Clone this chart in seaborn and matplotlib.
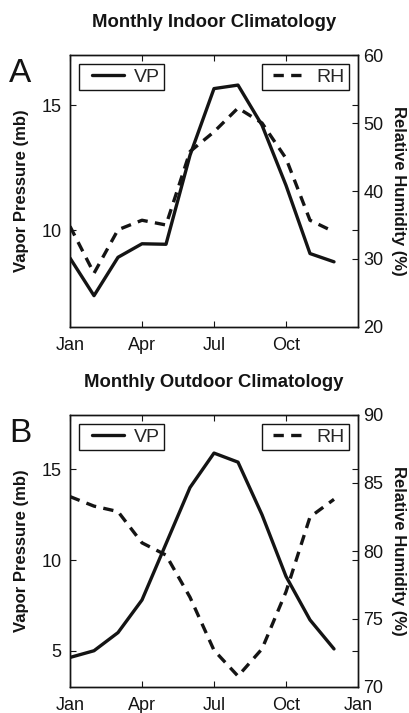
import matplotlib
matplotlib.use("Agg")
import matplotlib.pyplot as plt
import seaborn as sns
import pandas as pd
from matplotlib.lines import Line2D
from matplotlib.legend_handler import HandlerLine2D

# ---- data ----
months = [1, 2, 3, 4, 5, 6, 7, 8, 9, 10, 11, 12]
indoor_vp = [8.9, 7.4, 8.93, 9.47, 9.45, 13.0, 15.66, 15.8, 14.2, 11.8, 9.08, 8.75]
indoor_rh = [34.8, 27.9, 34.3, 35.7, 35.0, 45.8, 48.7, 52.2, 50.0, 44.8, 35.7, 34.0]
outdoor_vp = [4.63, 5.0, 6.0, 7.8, 10.9, 14.0, 15.9, 15.4, 12.5, 9.1, 6.7, 5.1]
outdoor_rh = [84.0, 83.3, 82.9, 80.6, 79.7, 76.6, 72.7, 70.8, 72.8, 77.0, 82.5, 83.8]

xtick_pos_a = [1, 4, 7, 10]
xtick_lab_a = ["Jan", "Apr", "Jul", "Oct"]
xtick_pos_b = [1, 4, 7, 10, 13]
xtick_lab_b = ["Jan", "Apr", "Jul", "Oct", "Jan"]

titles = ["Monthly Indoor Climatology", "Monthly Outdoor Climatology"]
panel_letters = ["A", "B"]

sns.set_theme(style="white")
plt.rcParams["font.family"] = ["Liberation Sans", "DejaVu Sans"]
plt.rcParams["axes.linewidth"] = 1.0

W, H = 409, 713
fig = plt.figure(figsize=(W / 100, H / 100), dpi=100)

INK = "#141414"
LW = 2.4
DASH = (0, (3.1, 2.2))

def make_panel(top_px, vp, rh, vp_lim, vp_ticks, rh_lim, rh_ticks,
               xpos, xlab, title, letter):
    left, right, bottom = 70, 358, top_px + 272
    ax = fig.add_axes([left / W, 1 - bottom / H, (right - left) / W, 272 / H])
    df = pd.DataFrame({"month": months, "vp": vp, "rh": rh})
    sns.lineplot(data=df, x="month", y="vp", ax=ax, color=INK, lw=LW)
    ax2 = ax.twinx()
    sns.lineplot(data=df, x="month", y="rh", ax=ax2, color=INK, lw=LW,
                 linestyle=DASH)
    ax.set_xlim(1, 13)
    ax.set_ylim(*vp_lim)
    ax2.set_ylim(*rh_lim)
    ax.set_xticks(xpos)
    ax.set_xticklabels(xlab)
    ax.set_yticks(vp_ticks)
    ax2.set_yticks(rh_ticks)
    for a in (ax, ax2):
        for s in a.spines.values():
            s.set_color(INK)
            s.set_linewidth(1.0)
        a.tick_params(labelsize=13, colors=INK, direction="in", length=4,
                      width=0.8, pad=5)
    ax.tick_params(axis="x", top=True, bottom=True, pad=7)
    ax.tick_params(axis="y", left=True, right=True, pad=6)
    ax2.tick_params(axis="y", right=True, pad=4)
    ax.set_xlabel("")
    ax.set_ylabel("Vapor Pressure (mb)", fontsize=12, fontweight="bold",
                  color=INK)
    ax2.set_ylabel("Relative Humidity (%)", fontsize=12, fontweight="bold",
                   color=INK, rotation=270)
    ax.yaxis.label.set_va("center")
    ax2.yaxis.label.set_va("center")
    ax.yaxis.set_label_coords(-0.167, 0.5)
    ax2.yaxis.set_label_coords(1.139, 0.5)
    ax.set_title(title, fontsize=13.3, fontweight="bold", color=INK, pad=20)
    h1 = Line2D([], [], color=INK, lw=LW)
    h2 = Line2D([], [], color=INK, lw=LW, linestyle=DASH)
    leg_kw = dict(fontsize=14, frameon=True, fancybox=False,
                  edgecolor=INK, framealpha=1, handlelength=2.1,
                  handletextpad=0.5, borderpad=0.22, borderaxespad=0.45)
    l1 = ax2.legend([h1], ["VP"], loc="upper left",
                    handler_map={h1: HandlerLine2D(xpad=0.45)}, **leg_kw)
    l1.get_frame().set_linewidth(1.0)
    ax2.add_artist(l1)
    l2 = ax2.legend([h2], ["RH"], loc="upper right",
                    handler_map={h2: HandlerLine2D(xpad=0.35)}, **leg_kw)
    l2.get_frame().set_linewidth(1.0)
    fig.text(20 / W, 1 - (top_px + 19) / H, letter, fontsize=24,
             ha="center", va="center", color=INK)

make_panel(55, indoor_vp, indoor_rh, (6.15, 17), [10, 15], (20, 60),
           [20, 30, 40, 50, 60], xtick_pos_a, xtick_lab_a, titles[0],
           panel_letters[0])
make_panel(415, outdoor_vp, outdoor_rh, (3, 18), [5, 10, 15], (70, 90),
           [70, 75, 80, 85, 90], xtick_pos_b, xtick_lab_b, titles[1],
           panel_letters[1])

fig.savefig("out.png", dpi=100)
